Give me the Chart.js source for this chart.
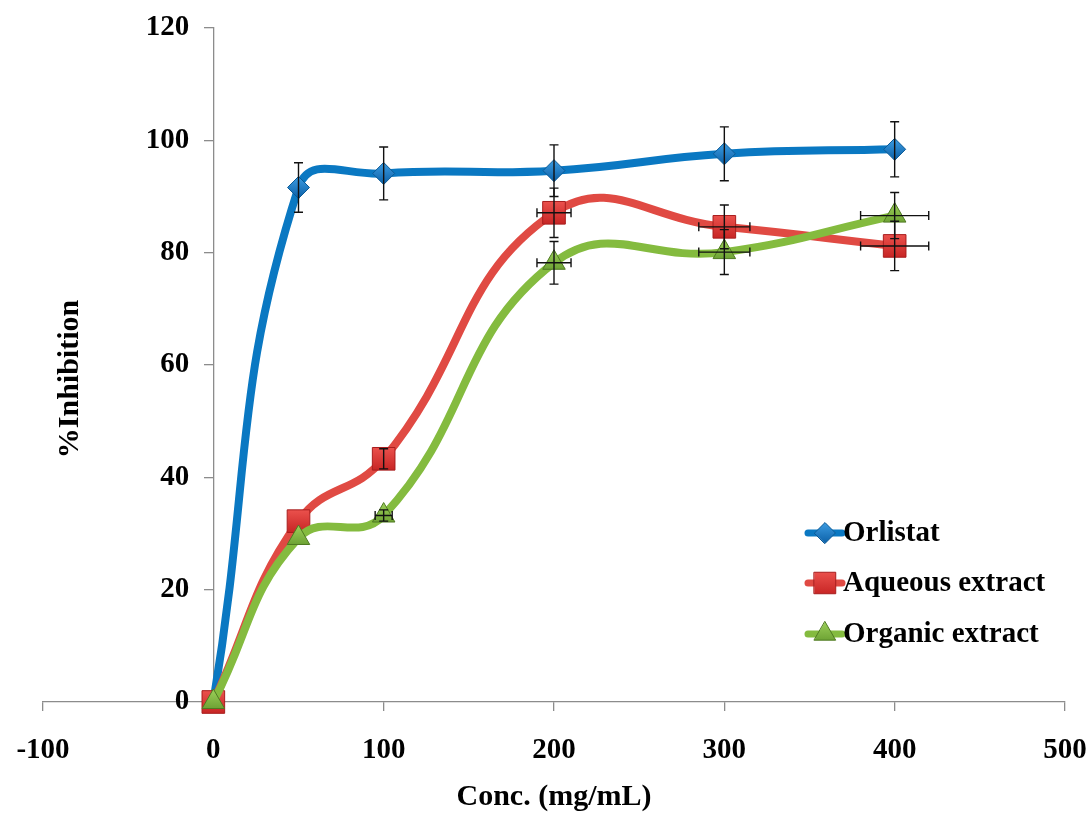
<!DOCTYPE html>
<html>
<head>
<meta charset="utf-8">
<script src="https://cdn.jsdelivr.net/npm/chart.js@4.4.1/dist/chart.umd.min.js"></script>
<style>
  html, body { margin: 0; padding: 0; background: #ffffff; }
  #wrap { width: 1090px; height: 815px; position: relative; }
</style>
</head>
<body>
<div id="wrap"><canvas id="chart"></canvas></div>
<script>
// Concentrations (mg/mL) and mean % inhibition per sample
const concentrations = [0, 50, 100, 200, 300, 400];
const orlistat = [0, 91.6, 94.1, 94.6, 97.6, 98.4];
const aqueous  = [0, 32.2, 43.3, 87.1, 84.6, 81.2];
const organic  = [0, 29.2, 33.2, 78.2, 80.1, 86.6];

// Vertical error (± % inhibition)
const orlistatErr = [0, 4.4, 4.7, 4.6, 4.8, 4.9];
const aqueousErr  = [0, 0, 1.8, 4.4, 3.9, 4.4];
const organicErr  = [0, 0, 1.0, 3.8, 4.0, 4.1];

// Horizontal error (± mg/mL)
const orlistatXErr = [0, 0, 0, 0, 0, 0];
const aqueousXErr  = [0, 0, 0, 10, 15, 20];
const organicXErr  = [0, 0, 5, 10, 15, 20];

// Axis ticks
const xTicks = [-100, 0, 100, 200, 300, 400, 500];
const yTicks = [0, 20, 40, 60, 80, 100, 120];

const seriesNames = ['Orlistat', 'Aqueous extract', 'Organic extract'];

const FONT = '"Liberation Serif", "Times New Roman", serif';
const AXIS_GREY = '#8c8c8c';

function points(ys) {
  return concentrations.map((x, i) => ({ x: x, y: ys[i] }));
}

const styles = [
  { line: '#0a78c2', top: '#3d9de3', bottom: '#0b5fa6', edge: '#0b5a96', shape: 'rectRot', r: 11 },
  { line: '#e04a43', top: '#f25a55', bottom: '#c01c1c', edge: '#a81e1e', shape: 'rect', r: 16 },
  { line: '#84bb3f', top: '#9dd05a', bottom: '#5e9428', edge: '#4f7a22', shape: 'triangle', r: 13 }
];

const errY = [orlistatErr, aqueousErr, organicErr];
const errX = [orlistatXErr, aqueousXErr, organicXErr];

// Vertical shading for a marker centred at height cy
function markerShade(ctx, s, cy) {
  if (!isFinite(cy)) return s.bottom;
  const g = ctx.createLinearGradient(0, cy - s.r, 0, cy + s.r);
  g.addColorStop(0, s.top);
  g.addColorStop(1, s.bottom);
  return g;
}

// Error bars with end caps, drawn from the scales
const errorBars = {
  id: 'errorBars',
  afterDatasetsDraw(chart) {
    const { ctx, scales: { x, y } } = chart;
    ctx.save();
    ctx.strokeStyle = '#111111';
    ctx.lineWidth = 1.4;
    const cap = 4.5;
    chart.data.datasets.forEach((ds, d) => {
      ds.data.forEach((p, i) => {
        const px = x.getPixelForValue(p.x);
        const py = y.getPixelForValue(p.y);
        const ey = errY[d][i];
        const ex = errX[d][i];
        ctx.beginPath();
        if (ey > 0) {
          const t = y.getPixelForValue(p.y + ey);
          const b = y.getPixelForValue(p.y - ey);
          ctx.moveTo(px, t); ctx.lineTo(px, b);
          ctx.moveTo(px - cap, t); ctx.lineTo(px + cap, t);
          ctx.moveTo(px - cap, b); ctx.lineTo(px + cap, b);
        }
        if (ex > 0) {
          const l = x.getPixelForValue(p.x - ex);
          const r = x.getPixelForValue(p.x + ex);
          ctx.moveTo(l, py); ctx.lineTo(r, py);
          ctx.moveTo(l, py - cap); ctx.lineTo(l, py + cap);
          ctx.moveTo(r, py - cap); ctx.lineTo(r, py + cap);
        }
        ctx.stroke();
      });
    });
    ctx.restore();
  }
};

// The y axis sits at x = 0; keep its tick labels clear of the tick marks
const yLabelGap = {
  id: 'yLabelGap',
  beforeDraw(chart) {
    const s = chart.scales.y;
    const items = s.getLabelItems();
    items.forEach(it => {
      if (!it._shifted) {
        it.options.translation[0] -= 24;
        it._shifted = true;
      }
    });
  }
};

// Rotated y-axis caption placed in the plot's left margin
const yCaption = {
  id: 'yCaption',
  afterDraw(chart) {
    const { ctx, chartArea } = chart;
    ctx.save();
    ctx.font = 'bold 30px ' + FONT;
    ctx.fillStyle = '#000000';
    ctx.textAlign = 'center';
    ctx.textBaseline = 'middle';
    ctx.translate(70, (chartArea.top + chartArea.bottom) / 2 + 14);
    ctx.rotate(-Math.PI / 2);
    ctx.fillText('%Inhibition', 0, 0);
    ctx.restore();
  }
};

// Legend inside the plot: line sample with marker, then series name
const insideLegend = {
  id: 'insideLegend',
  afterDraw(chart) {
    const { ctx } = chart;
    const x0 = 808, x1 = 842, rows = [533, 583, 634];
    ctx.save();
    ctx.font = 'bold 29px ' + FONT;
    ctx.textBaseline = 'middle';
    ctx.textAlign = 'left';
    chart.data.datasets.forEach((ds, d) => {
      const s = styles[d];
      const yy = rows[d];
      const cx = (x0 + x1) / 2;
      ctx.strokeStyle = s.line;
      ctx.lineWidth = 7;
      ctx.lineCap = 'round';
      ctx.beginPath();
      ctx.moveTo(x0, yy); ctx.lineTo(x1, yy);
      ctx.stroke();
      ctx.fillStyle = markerShade(ctx, s, yy);
      ctx.strokeStyle = s.edge;
      ctx.lineWidth = 1;
      Chart.helpers.drawPoint(ctx, { pointStyle: s.shape, radius: s.r * 0.95, rotation: 0, borderWidth: 1 }, cx, yy);
      ctx.fillStyle = '#000000';
      ctx.fillText(ds.label, 843, yy + 1);
    });
    ctx.restore();
  }
};

const datasets = [orlistat, aqueous, organic].map((ys, d) => ({
  label: seriesNames[d],
  data: points(ys),
  borderColor: styles[d].line,
  borderWidth: 8,
  tension: 0.45,
  pointStyle: styles[d].shape,
  pointRadius: styles[d].r,
  pointHoverRadius: styles[d].r,
  pointBackgroundColor: c => {
    const ys = c.chart.scales && c.chart.scales.y;
    if (!c.parsed || !ys) return styles[d].bottom;
    return markerShade(c.chart.ctx, styles[d], ys.getPixelForValue(c.parsed.y));
  },
  pointBorderColor: styles[d].edge,
  pointBorderWidth: 1,
  showLine: true,
  clip: false,
  order: 2 - d
}));

new Chart(document.getElementById('chart'), {
  type: 'scatter',
  data: { datasets: datasets },
  plugins: [errorBars, yLabelGap, yCaption, insideLegend],
  options: {
    responsive: true,
    maintainAspectRatio: false,
    animation: false,
    events: [],
    layout: { padding: { left: 43, right: 25, top: 28, bottom: 0 } },
    plugins: { legend: { display: false }, tooltip: { enabled: false } },
    scales: {
      x: {
        type: 'linear',
        position: 'bottom',
        min: -100,
        max: 500,
        afterBuildTicks: s => { s.ticks = xTicks.map(v => ({ value: v })); },
        afterFit: s => { s.height = 113; s.paddingLeft = 0; s.paddingRight = 0; },
        grid: { display: true, drawOnChartArea: false, drawTicks: true, tickLength: 9, color: AXIS_GREY, lineWidth: 1.3 },
        border: { display: true, color: AXIS_GREY, width: 1.3 },
        ticks: { color: '#000000', font: { family: FONT, size: 29, weight: 'bold' }, padding: 22, maxRotation: 0 },
        title: { display: true, text: 'Conc. (mg/mL)', color: '#000000', font: { family: FONT, size: 30, weight: 'bold' }, padding: { top: 0, bottom: 0 } }
      },
      y: {
        type: 'linear',
        position: { x: 0 },
        min: 0,
        max: 120,
        afterBuildTicks: s => { s.ticks = yTicks.map(v => ({ value: v })); },
        afterFit: s => { s.width = 0; },
        grid: { display: true, drawOnChartArea: false, drawTicks: true, tickLength: 9, color: AXIS_GREY, lineWidth: 1.3 },
        border: { display: true, color: AXIS_GREY, width: 1.3 },
        ticks: { color: '#000000', font: { family: FONT, size: 29, weight: 'bold' } }
      }
    }
  }
});
</script>
</body>
</html>
